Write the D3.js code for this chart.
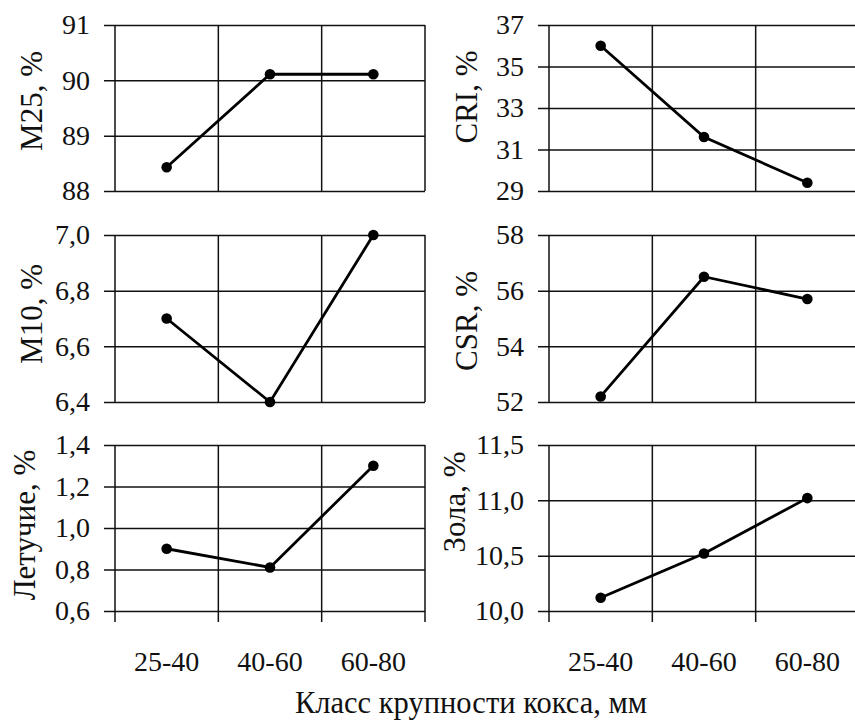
<!DOCTYPE html>
<html>
<head>
<meta charset="utf-8">
<script src="https://cdn.jsdelivr.net/npm/d3@7"></script>
<style>
  body { margin: 0; background: #fff; }
  svg { display: block; }
</style>
</head>
<body>
<div id="chart"></div>
<script>
// Категории (класс крупности кокса)
const categories = ["25-40", "40-60", "60-80"];

// Значения показателей
const m25 = [88.43, 90.11, 90.11];
const cri = [36.0, 31.6, 29.4];
const m10 = [6.70, 6.40, 7.00];
const csr = [52.2, 56.5, 55.7];
const volatiles = [0.90, 0.81, 1.30];
const ash = [10.12, 10.52, 11.02];

// Деления осей Y
const m25Ticks = [88, 89, 90, 91];
const criTicks = [29, 31, 33, 35, 37];
const m10Ticks = [6.4, 6.6, 6.8, 7.0];
const csrTicks = [52, 54, 56, 58];
const volTicks = [0.6, 0.8, 1.0, 1.2, 1.4];
const ashTicks = [10.0, 10.5, 11.0, 11.5];

const xTitle = "Класс крупности кокса, мм";

const W = 855, H = 724;
const FONT = "Liberation Serif";
const ru = d3.formatLocale({ decimal: ",", thousands: " ", grouping: [3], currency: ["", ""] });

// Панели: данные + расположение
const panels = [
  { label: "M25, %",     values: m25,       ticks: m25Ticks, fmt: ru.format(".0f"), col: 0, row: 0, lx: 31,  ly: 101 },
  { label: "CRI, %",     values: cri,       ticks: criTicks, fmt: ru.format(".0f"), col: 1, row: 0, lx: 466, ly: 97 },
  { label: "M10, %",     values: m10,       ticks: m10Ticks, fmt: ru.format(".1f"), col: 0, row: 1, lx: 31,  ly: 314 },
  { label: "CSR, %",     values: csr,       ticks: csrTicks, fmt: ru.format(".0f"), col: 1, row: 1, lx: 466, ly: 321 },
  { label: "Летучие, %", values: volatiles, ticks: volTicks, fmt: ru.format(".1f"), col: 0, row: 2, lx: 24,  ly: 525 },
  { label: "Зола, %",    values: ash,       ticks: ashTicks, fmt: ru.format(".1f"), col: 1, row: 2, lx: 454, ly: 502 }
];

const colX = [115, 549];          // левая граница области построения
const plotW = 310;
const rowY = [[25, 191], [235, 402], [445, 611]];
const tickLen = 11;

const svg = d3.select("#chart").append("svg")
  .attr("width", W)
  .attr("height", H)
  .attr("font-family", FONT);

panels.forEach(p => {
  const x0 = colX[p.col];
  const [y0, y1] = rowY[p.row];

  const x = d3.scaleBand().domain(categories).range([x0, x0 + plotW]);
  const y = d3.scaleLinear().domain(d3.extent(p.ticks)).range([y1, y0]);

  const g = svg.append("g");

  // Горизонтальная сетка + подписи оси Y
  const yAxis = g.append("g")
    .attr("transform", `translate(${x0 - tickLen},0)`)
    .call(d3.axisLeft(y).tickValues(p.ticks).tickFormat(p.fmt)
      .tickSize(-(plotW + tickLen)).tickPadding(14).tickSizeOuter(0));
  yAxis.attr("font-family", FONT).attr("font-size", 28);
  yAxis.select(".domain").remove();
  yAxis.selectAll(".tick line").attr("stroke", "#111").attr("stroke-width", 1.5);
  yAxis.selectAll(".tick text").attr("font-family", FONT).attr("fill", "#111");

  // Вертикальные линии на границах категорий
  const bounds = categories.map(c => x(c)).concat([x0 + plotW]);
  const bottomExt = p.row === 2 ? tickLen : 0;
  g.selectAll(".vline").data(bounds).enter().append("line")
    .attr("x1", d => d).attr("x2", d => d)
    .attr("y1", y0).attr("y2", y1 + bottomExt)
    .attr("stroke", "#111").attr("stroke-width", 1.5);

  // Подписи категорий (только нижний ряд)
  if (p.row === 2) {
    const xAxis = g.append("g")
      .attr("transform", `translate(0,${y1})`)
      .call(d3.axisBottom(x).tickSize(0).tickPadding(40));
    xAxis.attr("font-family", FONT).attr("font-size", 28);
    xAxis.select(".domain").remove();
    xAxis.selectAll(".tick text").attr("font-family", FONT).attr("fill", "#111");
  }

  // Линия данных
  const pts = categories.map((c, i) => ({ c, v: p.values[i] }));
  g.append("path")
    .datum(pts)
    .attr("fill", "none")
    .attr("stroke", "#000")
    .attr("stroke-width", 2.8)
    .attr("d", d3.line().x(d => x(d.c) + x.bandwidth() / 2).y(d => y(d.v)));

  g.selectAll(".dot").data(pts).enter().append("circle")
    .attr("cx", d => x(d.c) + x.bandwidth() / 2)
    .attr("cy", d => y(d.v))
    .attr("r", 5.3)
    .attr("fill", "#000");

  // Подпись оси Y
  svg.append("text")
    .attr("transform", `translate(${p.lx},${p.ly}) rotate(-90)`)
    .attr("text-anchor", "middle")
    .attr("dy", "0.35em")
    .attr("font-family", FONT)
    .attr("font-size", 31)
    .attr("fill", "#111")
    .text(p.label);
});

// Общая подпись оси X
svg.append("text")
  .attr("x", 471)
  .attr("y", 713)
  .attr("text-anchor", "middle")
  .attr("font-family", FONT)
  .attr("font-size", 30.5)
  .attr("fill", "#111")
  .text(xTitle);
</script>
</body>
</html>
